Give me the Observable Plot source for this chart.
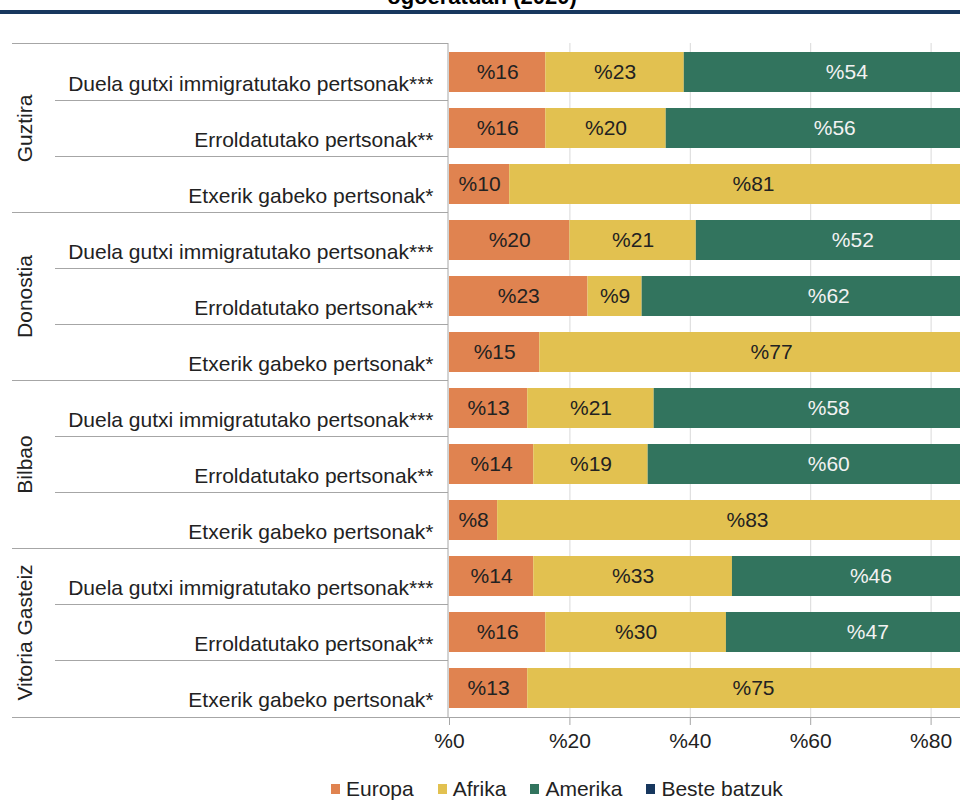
<!DOCTYPE html>
<html>
<head>
<meta charset="utf-8">
<script src="https://cdn.jsdelivr.net/npm/d3@7"></script>
<script src="https://cdn.jsdelivr.net/npm/@observablehq/plot@0.6"></script>
<style>
  html, body { margin: 0; padding: 0; background: #fff; overflow: hidden; }
  #wrap { position: relative; width: 960px; height: 801px; overflow: hidden;
          font-family: "Liberation Sans", Arial, sans-serif; color: #222; }
  #title { position: absolute; left: 0; width: 964px; top: -14px; text-align: center;
           font: bold 22px/22px "Liberation Sans", Arial, sans-serif; color: #000; white-space: nowrap; }
  #band { position: absolute; left: 0; top: 10px; width: 960px; height: 4px; background: #17375e; }
  #chart { position: absolute; left: 0; top: 0; width: 1071px; }
  #chart svg { max-width: none !important; width: 1071px !important; height: 770px !important; }
  #legend { position: absolute; top: 778px; left: 331px; display: flex; font-size: 21px; line-height: 22px; white-space: nowrap; }
  #legend .item { display: flex; align-items: center; margin-right: 24px; }
  #legend .sw { width: 9px; height: 10px; margin-right: 6px; }
  [aria-label^="x-axis"] line, [aria-label^="x-axis"] path { stroke: #a6a6a6; }
</style>
</head>
<body>
<div id="wrap">
  <div id="title">ogoeratuan (2020)</div>
  <div id="band"></div>
  <div id="chart"></div>
  <div id="legend"></div>
</div>
<script>
// Groups (cities) and the three population categories shown for each
const groups = ["Guztira", "Donostia", "Bilbao", "Vitoria Gasteiz"];
const categories = [
  "Duela gutxi immigratutako pertsonak***",
  "Erroldatutako pertsonak**",
  "Etxerik gabeko pertsonak*"
];
const continents = ["Europa", "Afrika", "Amerika", "Beste batzuk"];
const colors = ["#e08350", "#e2c150", "#32745e", "#17375e"];

// Shares by origin (%), one value per row: groups in order, categories within each
const europa  = [16, 16, 10, 20, 23, 15, 13, 14,  8, 14, 16, 13];
const afrika  = [23, 20, 81, 21,  9, 77, 21, 19, 83, 33, 30, 75];
const amerika = [54, 56,  6, 52, 62,  5, 58, 60,  6, 46, 47,  8];
const beste   = [ 7,  8,  3,  7,  6,  3,  8,  7,  3,  7,  7,  4];

const xTicks = [0, 20, 40, 60, 80, 100];

// Row keys combine group and category so each bar gets its own band
const rows = groups.flatMap(g => categories.map(c => ({group: g, category: c, key: g + "|" + c})));
const rowKeys = rows.map(r => r.key);
const series = [europa, afrika, amerika, beste];
const data = rows.flatMap((r, i) =>
  continents.map((c, j) => ({row: r.key, continent: c, value: series[j][i]}))
);

const font = "Liberation Sans, Arial, sans-serif";
const fs = 21;

// Horizontal separators: row dividers, group dividers, top and bottom lines
function separators(index, scales, values, dimensions) {
  const y = scales.y;
  const bw = typeof y.bandwidth === "function" ? y.bandwidth() : 0;
  const {marginTop, marginLeft, marginBottom, height, width} = dimensions;
  const g = d3.create("svg:g").attr("stroke", "#a6a6a6").attr("stroke-width", 1);
  const line = (x1, x2, yy) =>
    g.append("line").attr("x1", x1).attr("x2", x2).attr("y1", yy).attr("y2", yy);
  line(12, marginLeft - 1, marginTop + 0.5);
  for (let i = 0; i < rowKeys.length - 1; i++) {
    const yy = Math.round((y(rowKeys[i]) + y(rowKeys[i + 1])) / 2 + bw / 2) + 0.5;
    const groupEnd = (i + 1) % categories.length === 0;
    line(groupEnd ? 12 : 55, marginLeft - 1, yy);
  }
  line(12, width, height - marginBottom + 0.5);
  return g.node();
}

const chart = Plot.plot({
  width: 1071,
  height: 770,
  marginLeft: 449,
  marginRight: 20,
  marginTop: 43,
  marginBottom: 53,
  style: {fontFamily: font, fontSize: fs + "px", color: "#222", background: "transparent",
          overflow: "visible", maxWidth: "none"},
  x: {domain: [0, 100], ticks: xTicks, tickFormat: d => "%" + d, tickSize: 8, tickPadding: 8, label: null},
  y: {domain: rowKeys, paddingInner: 0.285, paddingOuter: 0.1425, axis: null},
  color: {domain: continents, range: colors},
  marks: [
    Plot.ruleX(xTicks.slice(1), {stroke: "#d9d9d9"}),
    Plot.barX(data, Plot.stackX({y: "row", x: "value", z: "continent", fill: "continent"})),
    Plot.text(data, Plot.stackX({
      y: "row", x: "value", z: "continent",
      text: d => (d.continent === "Europa" || d.continent === "Afrika") ? "%" + d.value : "",
      fill: "#222", fontSize: fs
    })),
    Plot.text(data, Plot.stackX({
      y: "row", x: "value", z: "continent",
      text: d => (d.continent === "Amerika" || d.continent === "Beste batzuk") ? "%" + d.value : "",
      fill: "#f2f2f2", fontSize: fs
    })),
    Plot.ruleX([0], {stroke: "#a6a6a6", dx: -1.5}),
    separators,
    Plot.text(rows, {
      y: "key", text: "category", frameAnchor: "left", textAnchor: "end",
      dx: -16, dy: 12, fontSize: fs, fill: "#222"
    }),
    Plot.text(groups, {
      y: g => g + "|" + categories[1], text: d => d, frameAnchor: "left", textAnchor: "middle",
      dx: -424, rotate: -90, fontSize: fs, fill: "#222"
    })
  ]
});
document.getElementById("chart").appendChild(chart);

// Legend
const legend = d3.select("#legend");
continents.forEach((c, i) => {
  const item = legend.append("div").attr("class", "item");
  item.append("div").attr("class", "sw").style("background", colors[i]);
  item.append("span").text(c);
});
</script>
</body>
</html>
